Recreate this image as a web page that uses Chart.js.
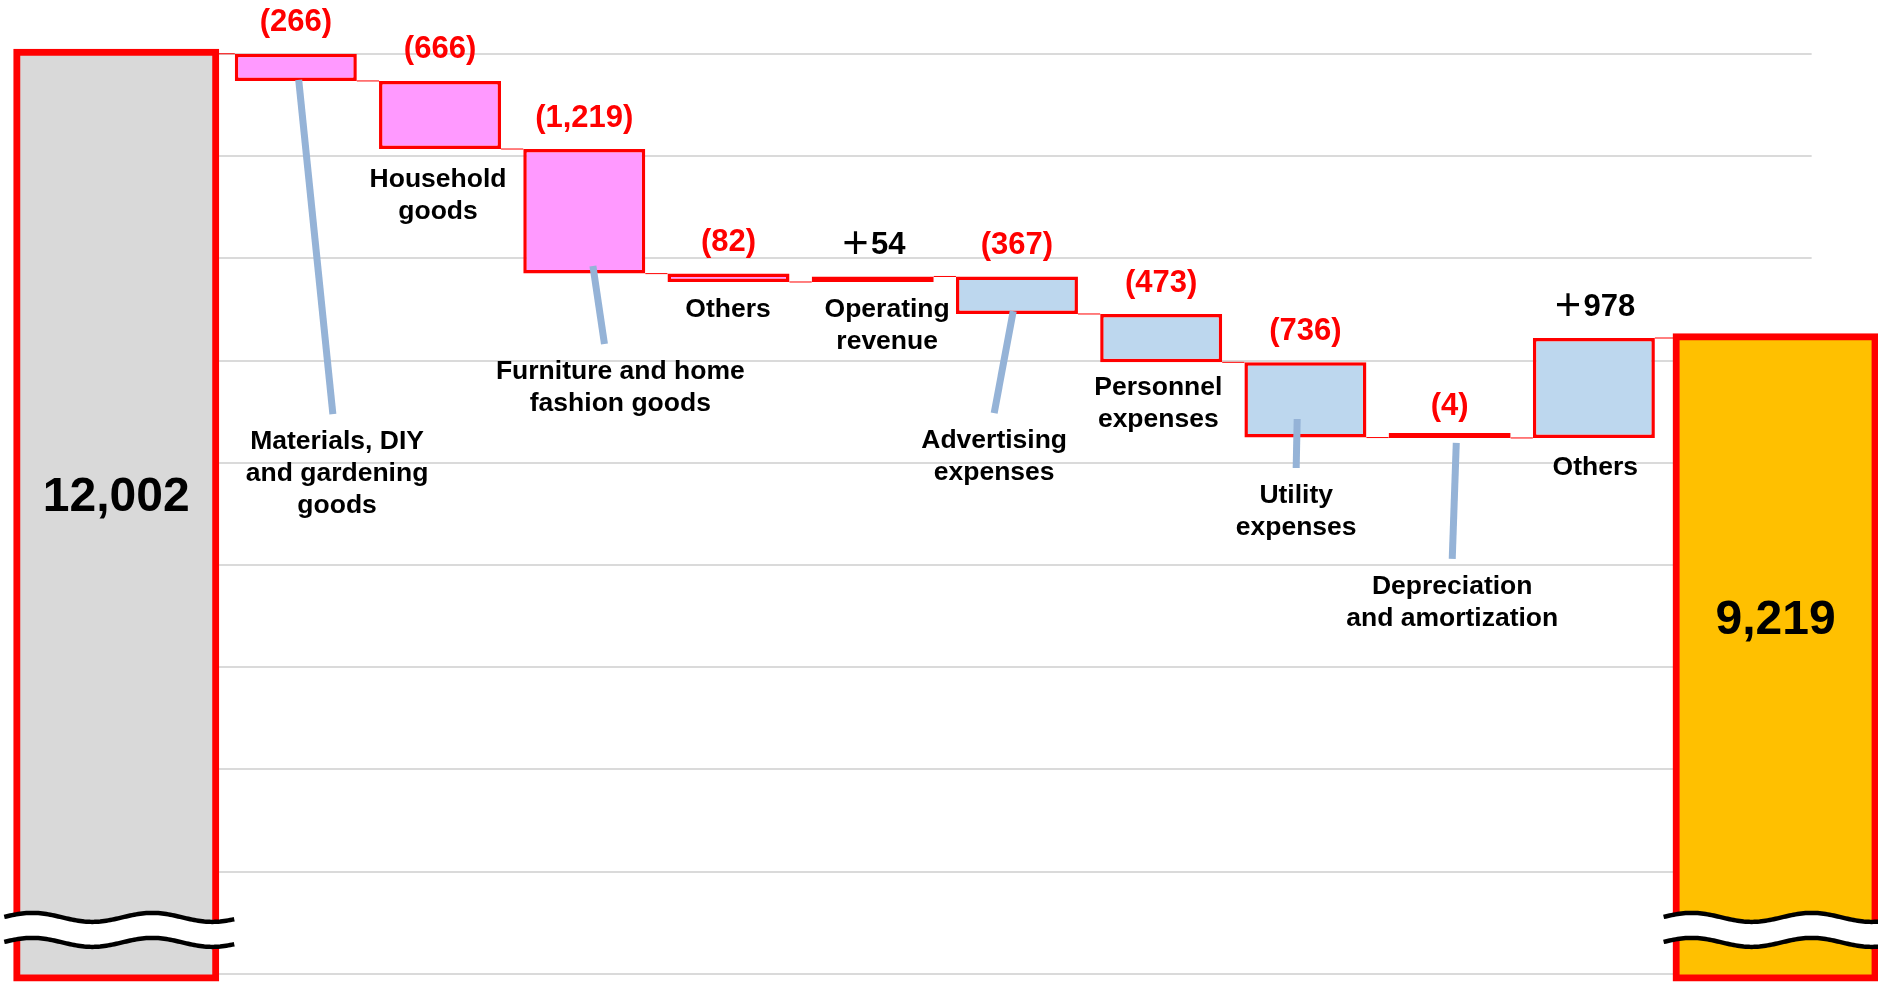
<!DOCTYPE html>
<html>
<head>
<meta charset="utf-8">
<title>Operating profit bridge</title>
<script src="https://cdn.jsdelivr.net/npm/chart.js@4.4.1/dist/chart.umd.min.js"></script>
<style>
    html, body { margin: 0; padding: 0; background: #fff; }
    #wrap { width: 1878px; height: 986px; }
</style>
</head>
<body>
<div id="wrap"><canvas id="bridge" width="1878" height="986"></canvas></div>
<script>
// opening and closing totals
const startValue = 12002;
const endValue = 9219;
const totalLabels = ['12,002', '9,219'];

// change items, left to right
const categories = [
    ['Materials, DIY', 'and gardening', 'goods'],
    ['Household', 'goods'],
    ['Furniture and home', 'fashion goods'],
    ['Others'],
    ['Operating', 'revenue'],
    ['Advertising', 'expenses'],
    ['Personnel', 'expenses'],
    ['Utility', 'expenses'],
    ['Depreciation', 'and amortization'],
    ['Others']
];
const changes = [-266, -666, -1219, -82, 54, -367, -473, -736, -4, 978];
const changeLabels = ['(266)', '(666)', '(1,219)', '(82)', '＋54', '(367)', '(473)', '(736)', '(4)', '＋978'];
const itemKind = ['sales', 'sales', 'sales', 'sales', 'sales', 'cost', 'cost', 'cost', 'cost', 'cost'];

// horizontal guide lines
const gridValues = [3000, 4000, 5000, 6000, 7000, 8000, 9000, 10000, 11000, 12000];

// layout
const TOTAL_X = [-1.245, 10.26];   // slots of the opening / closing bars
const GRID_TO = 10.51;
const CUT_BASE = 2975;             // total bars are cut off here
const BREAK_AT = 3430;             // wavy break marks
const totalLabelY = [7660, 6450];
// dx: label offset from the bar slot, y: value at first text line,
// leader: [start dx, start value, end dx]
const labelSpots = [
    { dx: 0.286, y: 8203, leader: [0.02, 11746, 0.257] },
    { dx: -0.014, y: 10767 },
    { dx: 0.25, y: 8888, leader: [0.06, 9926, 0.14] },
    { dx: -0.003, y: 9495 },
    { dx: 0.1, y: 9495 },
    { dx: -0.158, y: 8213, leader: [-0.026, 9485, -0.158] },
    { dx: -0.02, y: 8732 },
    { dx: -0.064, y: 7675, leader: [-0.057, 8428, -0.064] },
    { dx: 0.018, y: 6785, leader: [0.046, 8194, 0.018] },
    { dx: 0.01, y: 7949 }
];

const RED = '#ff0000';
const kindColors = { sales: '#ff99ff', cost: '#bdd7ee' };
const TEXT_FONT = 'bold 26.5px "Liberation Sans", Arial, sans-serif';
const VALUE_FONT = 'bold 31px "Liberation Sans", Arial, "Noto Sans CJK JP", sans-serif';
const TOTAL_FONT = 'bold 48px "Liberation Sans", Arial, sans-serif';

// floating bars from the running level
const levels = [];
let level = startValue;
const changeBars = changes.map((c, i) => {
    const from = level;
    level += c;
    levels.push(level);
    return { x: i, y: [from, level] };
});

const totalBars = [
    { x: TOTAL_X[0], y: [CUT_BASE, startValue] },
    { x: TOTAL_X[1], y: [CUT_BASE, endValue] }
];

function wave(left, right, y, phase, reverse) {
    const pts = [];
    for (let px = left; px <= right; px += 2) {
        pts.push([px, y - 4.5 * Math.cos(2 * Math.PI * (px - phase) / 120)]);
    }
    return reverse ? pts.reverse() : pts;
}

function tracePath(ctx, pts) {
    pts.forEach((p, k) => k ? ctx.lineTo(p[0], p[1]) : ctx.moveTo(p[0], p[1]));
}

const bridgePlugin = {
    id: 'bridge',
    beforeDatasetsDraw(chart) {
        const { ctx, scales: { x, y } } = chart;
        const totals = chart.getDatasetMeta(0).data;
        const bars = chart.getDatasetMeta(1).data;
        ctx.save();

        // guide lines
        const gx0 = totals[0].x + totals[0].width / 2;
        const gx1 = x.getPixelForValue(GRID_TO);
        ctx.strokeStyle = '#dadada';
        ctx.lineWidth = 2;
        gridValues.forEach(v => {
            const py = Math.round(y.getPixelForValue(v));
            ctx.beginPath();
            ctx.moveTo(gx0, py);
            ctx.lineTo(gx1, py);
            ctx.stroke();
        });

        // thin connectors between neighbouring bars
        ctx.strokeStyle = RED;
        ctx.lineWidth = 1;
        const steps = [startValue].concat(levels);
        const edges = [totals[0]].concat(bars).concat([totals[1]]);
        for (let i = 0; i < edges.length - 1; i++) {
            const py = y.getPixelForValue(steps[i]);
            ctx.beginPath();
            ctx.moveTo(edges[i].x + edges[i].width / 2, py);
            ctx.lineTo(edges[i + 1].x - edges[i + 1].width / 2, py);
            ctx.stroke();
        }
        ctx.restore();
    },
    afterDatasetsDraw(chart) {
        const { ctx, scales: { x, y } } = chart;
        const totals = chart.getDatasetMeta(0).data;
        const bars = chart.getDatasetMeta(1).data;
        ctx.save();

        // axis break marks across both total bars
        const yc = y.getPixelForValue(BREAK_AT);
        totals.forEach(bar => {
            const left = bar.x - bar.width / 2;
            const right = bar.x + bar.width / 2;
            const top = wave(left - 14, right + 20, yc - 12.5, left + 14, false);
            const bottom = wave(left - 14, right + 20, yc + 12.5, left + 14, true);
            ctx.beginPath();
            tracePath(ctx, top.concat(bottom));
            ctx.closePath();
            ctx.fillStyle = '#ffffff';
            ctx.fill();
            ctx.strokeStyle = '#000000';
            ctx.lineWidth = 4.5;
            [top, bottom].forEach(line => {
                ctx.beginPath();
                tracePath(ctx, line);
                ctx.stroke();
            });
        });

        // leader lines
        ctx.strokeStyle = '#95b3d7';
        ctx.lineWidth = 7;
        labelSpots.forEach((spot, i) => {
            if (!spot.leader) return;
            const [sdx, sv, edx] = spot.leader;
            ctx.beginPath();
            ctx.moveTo(x.getPixelForValue(i + sdx), y.getPixelForValue(sv));
            ctx.lineTo(x.getPixelForValue(i + edx), y.getPixelForValue(spot.y) - 28);
            ctx.stroke();
        });

        ctx.textAlign = 'center';
        ctx.textBaseline = 'middle';

        // item names
        ctx.font = TEXT_FONT;
        ctx.fillStyle = '#000000';
        categories.forEach((lines, i) => {
            const spot = labelSpots[i];
            const px = x.getPixelForValue(i + spot.dx);
            const py = y.getPixelForValue(spot.y);
            lines.forEach((t, k) => ctx.fillText(t, px, py + k * 32));
        });

        // change values above each bar
        ctx.font = VALUE_FONT;
        bars.forEach((bar, i) => {
            const topValue = Math.max(changeBars[i].y[0], changeBars[i].y[1]);
            ctx.fillStyle = changes[i] < 0 ? RED : '#000000';
            ctx.fillText(changeLabels[i], bar.x, y.getPixelForValue(topValue) - 31);
        });

        // totals
        ctx.font = TOTAL_FONT;
        ctx.fillStyle = '#000000';
        totals.forEach((bar, i) => {
            ctx.fillText(totalLabels[i], bar.x, y.getPixelForValue(totalLabelY[i]));
        });
        ctx.restore();
    }
};

new Chart(document.getElementById('bridge'), {
    type: 'bar',
    data: {
        datasets: [
            {
                label: 'Totals',
                data: totalBars,
                backgroundColor: ['#d9d9d9', '#ffc000'],
                borderColor: RED,
                borderWidth: 7,
                borderSkipped: false,
                barThickness: 196,
                inflateAmount: 5,
                grouped: false
            },
            {
                label: 'Changes',
                data: changeBars,
                backgroundColor: itemKind.map(k => kindColors[k]),
                borderColor: RED,
                borderWidth: 3.5,
                borderSkipped: false,
                barThickness: 122,
                inflateAmount: 0,
                minBarLength: 5,
                grouped: false
            }
        ]
    },
    options: {
        responsive: false,
        devicePixelRatio: 1,
        animation: false,
        layout: { padding: 0 },
        plugins: {
            legend: { display: false },
            tooltip: { enabled: false }
        },
        scales: {
            x: { type: 'linear', display: false, offset: false, min: -2.051, max: 10.97 },
            y: { display: false, min: 2881, max: 12528 }
        }
    },
    plugins: [bridgePlugin]
});
</script>
</body>
</html>
